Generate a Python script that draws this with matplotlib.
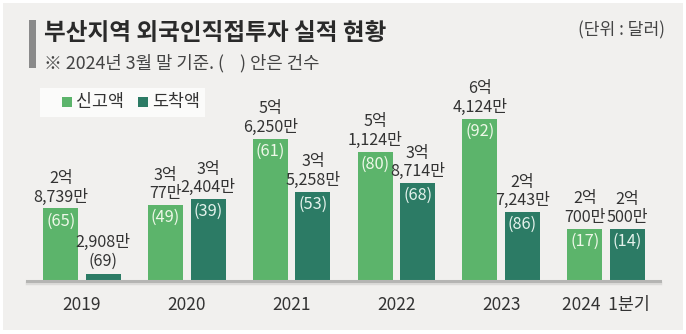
import matplotlib
matplotlib.use("Agg")
import matplotlib.pyplot as plt
from matplotlib.patches import Rectangle
import numpy as np

plt.rcParams['font.family'] = ['Noto Sans CJK KR', 'DejaVu Sans']

# ---- data ----
categories = ["2019", "2020", "2021", "2022", "2023", "2024  1분기"]
reported = [2.8739, 3.0077, 5.6250, 5.1124, 6.4124, 2.0700]      # 억 달러
arrived = [0.2908, 3.2404, 3.5258, 3.8714, 2.7243, 2.0500]
reported_labels = ["2억\n8,739만", "3억\n77만", "5억\n6,250만", "5억\n1,124만", "6억\n4,124만", "2억\n700만"]
arrived_labels = ["2,908만", "3억\n2,404만", "3억\n5,258만", "3억\n8,714만", "2억\n7,243만", "2억\n500만"]
reported_counts = [65, 49, 61, 80, 92, 17]
arrived_counts = [69, 39, 53, 68, 86, 14]

title = "부산지역 외국인직접투자 실적 현황"
subtitle = "※ 2024년 3월 말 기준. (    ) 안은 건수"
unit = "(단위 : 달러)"
legend_names = ["신고액", "도착액"]

C_REP = "#5cb46b"
C_ARR = "#2c7b65"
BG = "#f1f0ee"
TXT = "#333333"

W, H = 686, 334
fig = plt.figure(figsize=(W / 100, H / 100), dpi=100)
fig.patch.set_facecolor("white")

def fx(px):
    return px / W

def fy(py):
    return 1 - py / H

# background panel
bgax = fig.add_axes([0, 0, 1, 1], zorder=0)
bgax.set_xlim(0, W)
bgax.set_ylim(H, 0)
bgax.axis("off")
bgax.add_patch(Rectangle((3, 3), 680, 327, facecolor=BG, edgecolor="none"))

# title block
bgax.add_patch(Rectangle((29, 20), 7, 48, facecolor="#8a8a8a", edgecolor="none"))
bgax.text(44, 33, title, ha="left", va="center", fontsize=17,
          fontweight="bold", color="#2a2a2a")
bgax.text(44, 63, subtitle, ha="left", va="center", fontsize=12.8, color="#444444")
bgax.text(665, 30, unit, ha="right", va="center", fontsize=12.3, color="#444444")

# legend
bgax.add_patch(Rectangle((40, 88), 165, 29, facecolor="#fbfbfa", edgecolor="none"))
bgax.add_patch(Rectangle((62, 97), 10, 10, facecolor=C_REP, edgecolor="none"))
bgax.text(76, 102, legend_names[0], ha="left", va="center", fontsize=12.5, color=TXT)
bgax.add_patch(Rectangle((138, 97), 10, 10, facecolor=C_ARR, edgecolor="none"))
bgax.text(152, 102, legend_names[1], ha="left", va="center", fontsize=12.5, color=TXT)

# chart axes
left, right, base, top = 27, 660, 281, 60
ax = fig.add_axes([fx(left), fy(base), fx(right - left), (base - top) / H], zorder=2)
ax.set_facecolor("none")
for s in ax.spines.values():
    s.set_visible(False)
ax.set_xticks([])
ax.set_yticks([])

x = np.arange(len(categories))
per = 104.8
ax.set_xlim(-(82 - left) / per, len(categories) - 1 + (right - 606) / per)
scale = 25.3
ax.set_ylim(0, (base - top) / scale)

bw = 35 / per
off = 21.3 / per
ax.bar(x - off, reported, bw, color=C_REP, zorder=3)
ax.bar(x + off, arrived, bw, color=C_ARR, zorder=3)

# baseline with shadow
ax.axhline(0, color="#b5b5b3", lw=2.2, zorder=4, clip_on=False)
ax.axhline(-2 / scale, color="#dcdbd9", lw=2.5, zorder=2, clip_on=False)

LFS = 11.6
CFS = 11.8
LS = 1.12
px2y = 1 / scale
for i in range(len(categories)):
    ax.annotate(reported_labels[i], (x[i] - off, reported[i]), xytext=(0, 2),
                textcoords="offset points", ha="center", va="bottom",
                fontsize=LFS, color=TXT, linespacing=LS, zorder=5, annotation_clip=False)
    ax.annotate(f"({reported_counts[i]})", (x[i] - off, reported[i]), xytext=(0, -3),
                textcoords="offset points", ha="center", va="top",
                fontsize=CFS, color="#eef8e8", zorder=5)
    if arrived[i] < 1:
        ax.annotate(arrived_labels[i] + f"\n({arrived_counts[i]})", (x[i] + off, arrived[i]),
                    xytext=(0, 3), textcoords="offset points", ha="center", va="bottom",
                    fontsize=LFS, color=TXT, linespacing=LS, zorder=5)
    else:
        ax.annotate(arrived_labels[i], (x[i] + off, arrived[i]), xytext=(0, 2),
                    textcoords="offset points", ha="center", va="bottom",
                    fontsize=LFS, color=TXT, linespacing=LS, zorder=5)
        ax.annotate(f"({arrived_counts[i]})", (x[i] + off, arrived[i]), xytext=(0, -3),
                    textcoords="offset points", ha="center", va="top",
                    fontsize=CFS, color="#e4f2ec", zorder=5)
    ax.text(x[i], -24 * px2y, categories[i], ha="center", va="center",
            fontsize=12.5, color=TXT, clip_on=False)

fig.savefig("out.png", dpi=100, facecolor=fig.get_facecolor())
